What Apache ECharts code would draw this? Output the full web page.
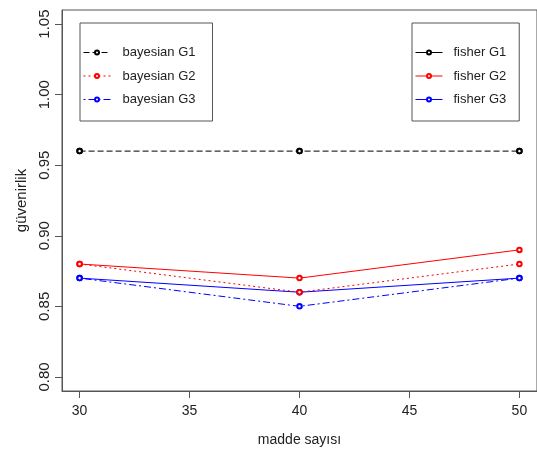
<!DOCTYPE html>
<html>
<head>
<meta charset="utf-8">
<script src="https://cdn.jsdelivr.net/npm/echarts@6/dist/echarts.min.js"></script>
<style>
  html, body { margin: 0; padding: 0; background: #ffffff; }
  #chart { width: 537px; height: 457px; }
</style>
</head>
<body>
<div id="chart"></div>
<script>
// ---- data ----
const categories = [30, 40, 50];             // madde sayısı
const bayesianG1 = [0.96, 0.96, 0.96];
const bayesianG2 = [0.88, 0.86, 0.88];
const bayesianG3 = [0.87, 0.85, 0.87];
const fisherG1   = [0.96, 0.96, 0.96];
const fisherG2   = [0.88, 0.87, 0.89];
const fisherG3   = [0.87, 0.86, 0.87];
const xTicks = [30, 35, 40, 45, 50];
const yTicks = [0.80, 0.85, 0.90, 0.95, 1.00, 1.05];

const pairs = (vals) => categories.map((c, i) => [c, vals[i]]);
const FONT = "'Liberation Sans', Arial, sans-serif";

function mk(name, vals, color, type, extra) {
  return Object.assign({
    name: name,
    type: 'line',
    data: pairs(vals),
    symbol: 'emptyCircle',
    symbolSize: 4.5,
    showSymbol: true,
    animation: false,
    itemStyle: { color: color, borderColor: color, borderWidth: 1 },
    lineStyle: { color: color, width: 1, type: type },
    emphasis: { disabled: true }
  }, extra || {});
}

const legendCommon = {
  orient: 'vertical',
  top: 23,
  itemGap: 9.5,
  itemWidth: 27, itemHeight: 5,
  borderColor: '#555', borderWidth: 1, borderRadius: 0,
  backgroundColor: '#fff',
  itemStyle: { borderWidth: 1 },
  lineStyle: { width: 1 }
};

const chart = echarts.init(document.getElementById('chart'), null, { renderer: 'canvas' });
chart.setOption({
  backgroundColor: '#ffffff',
  animation: false,
  textStyle: { fontFamily: FONT },
  grid: {
    left: 62, top: 10, width: 478, height: 381,
    show: true, borderColor: '#555', borderWidth: 1, backgroundColor: 'transparent'
  },
  xAxis: {
    type: 'value',
    min: 29.2, max: 50.8,
    name: 'madde sayısı',
    nameLocation: 'middle',
    nameGap: 42,
    nameTextStyle: { fontSize: 14, color: '#222', fontFamily: FONT },
    axisLine: { show: true, lineStyle: { color: '#555' } },
    axisTick: { show: true, length: 7, inside: false, customValues: xTicks, lineStyle: { color: '#555' } },
    axisLabel: { customValues: xTicks, fontSize: 14, color: '#222', margin: 13, fontFamily: FONT },
    splitLine: { show: false }
  },
  yAxis: {
    type: 'value',
    min: 0.79, max: 1.06,
    name: 'güvenirlik',
    nameLocation: 'middle',
    nameRotate: 90,
    nameGap: 29,
    nameTextStyle: { fontSize: 15, color: '#222', fontFamily: FONT },
    axisLine: { show: true, lineStyle: { color: '#555' } },
    axisTick: { show: true, length: 7, inside: false, customValues: yTicks, lineStyle: { color: '#555' } },
    axisLabel: {
      customValues: yTicks, rotate: 90, fontSize: 15, color: '#222', margin: 10, fontFamily: FONT,
      formatter: (v) => Number(v).toFixed(2)
    },
    splitLine: { show: false }
  },
  legend: [
    Object.assign({}, legendCommon, {
      left: 80,
      padding: [22.5, 17, 14.5, 3],
      textStyle: { fontSize: 13, color: '#222', fontFamily: FONT, lineHeight: 14, padding: [0, 0, 0, 7] },
      data: ['bayesian G1', 'bayesian G2', 'bayesian G3']
    }),
    Object.assign({}, legendCommon, {
      left: 412,
      padding: [22.5, 13, 14.5, 3],
      textStyle: { fontSize: 13, color: '#222', fontFamily: FONT, lineHeight: 14, padding: [0, 0, 0, 6] },
      data: [
        { name: 'fisher G1', lineStyle: { opacity: 1 } },
        'fisher G2', 'fisher G3'
      ]
    })
  ],
  series: [
    mk('fisher G1', fisherG1, '#000000', 'solid', { lineStyle: { color: '#000000', width: 1, type: 'solid', opacity: 0 }, z: 1 }),
    mk('fisher G2', fisherG2, '#ff0000', 'solid'),
    mk('fisher G3', fisherG3, '#0000ff', 'solid'),
    mk('bayesian G1', bayesianG1, '#000000', [6, 3]),
    mk('bayesian G2', bayesianG2, '#ff0000', [2, 3]),
    mk('bayesian G3', bayesianG3, '#0000ff', [2, 3, 7, 3])
  ]
});
</script>
</body>
</html>
